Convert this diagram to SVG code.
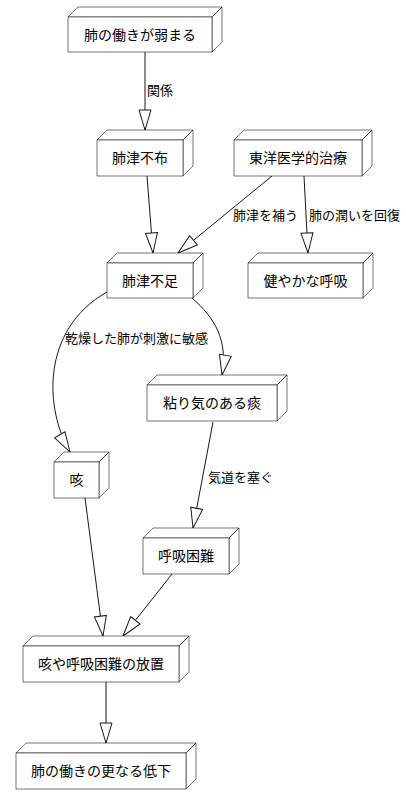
<svg xmlns="http://www.w3.org/2000/svg" width="406" height="805" viewBox="0 0 406 805">
<style>
.box{fill:#ffffff;stroke:#181818;stroke-width:0.6}
.nt{font-family:"Liberation Sans","Noto Sans CJK JP",sans-serif;font-size:14px;fill:#000;text-anchor:middle}
.el{font-family:"Liberation Sans","Noto Sans CJK JP",sans-serif;font-size:13px;fill:#000}
.edge{fill:none;stroke:#181818;stroke-width:1}
</style>
<defs>
<marker id="arr" markerUnits="userSpaceOnUse" viewBox="-21 -7 22 14" refX="0" refY="0" markerWidth="22" markerHeight="14" orient="auto">
<path d="M0,0 L-20,-6 L-20,6 Z" fill="#ffffff" stroke="#181818" stroke-width="1"/>
</marker>
</defs>
<rect width="406" height="805" fill="#ffffff"/>

<g id="edges">
<path class="edge" d="M145,52 L145,130" marker-end="url(#arr)"/>
<text class="el" x="147" y="95">関係</text>
<path class="edge" d="M147,176 L153,253" marker-end="url(#arr)"/>
<path class="edge" d="M272,176 L178,253" marker-end="url(#arr)"/>
<text class="el" x="233" y="220">肺津を補う</text>
<path class="edge" d="M304,176 L308,253" marker-end="url(#arr)"/>
<text class="el" x="309" y="220">肺の潤いを回復</text>
<path class="edge" d="M107,292 C40,330 45,410 70,452" marker-end="url(#arr)"/>
<text class="el" x="65" y="343">乾燥した肺が刺激に敏感</text>
<path class="edge" d="M192,298 C215,318 228,340 222,375" marker-end="url(#arr)"/>
<path class="edge" d="M213,422 L193,528" marker-end="url(#arr)"/>
<text class="el" x="208" y="482">気道を塞ぐ</text>
<path class="edge" d="M85,498 L103,636" marker-end="url(#arr)"/>
<path class="edge" d="M172,574 L123,636" marker-end="url(#arr)"/>
<path class="edge" d="M106,682 L106,743" marker-end="url(#arr)"/>
</g>

<g id="n1">
<path class="box" d="M68,17 L78,7 L222,7 L212,17 Z M212,17 L222,7 L222,42 L212,52 Z"/>
<rect class="box" x="68" y="17" width="144" height="35"/>
<text class="nt" x="140" y="39.5">肺の働きが弱まる</text>
</g>
<g id="n2">
<path class="box" d="M97,140 L107,130 L193,130 L183,140 Z M183,140 L193,130 L193,166 L183,176 Z"/>
<rect class="box" x="97" y="140" width="86" height="36"/>
<text class="nt" x="140" y="163">肺津不布</text>
</g>
<g id="n3">
<path class="box" d="M234,140 L244,130 L372,130 L362,140 Z M362,140 L372,130 L372,166 L362,176 Z"/>
<rect class="box" x="234" y="140" width="128" height="36"/>
<text class="nt" x="298" y="163">東洋医学的治療</text>
</g>
<g id="n4">
<path class="box" d="M107,263 L117,253 L203,253 L193,263 Z M193,263 L203,253 L203,288 L193,298 Z"/>
<rect class="box" x="107" y="263" width="86" height="35"/>
<text class="nt" x="150" y="285.5">肺津不足</text>
</g>
<g id="n5">
<path class="box" d="M248,263 L258,253 L373,253 L363,263 Z M363,263 L373,253 L373,288 L363,298 Z"/>
<rect class="box" x="248" y="263" width="115" height="35"/>
<text class="nt" x="305.5" y="285.5">健やかな呼吸</text>
</g>
<g id="n6">
<path class="box" d="M147,385 L157,375 L287,375 L277,385 Z M277,385 L287,375 L287,411 L277,421 Z"/>
<rect class="box" x="147" y="385" width="130" height="36"/>
<text class="nt" x="212" y="408">粘り気のある痰</text>
</g>
<g id="n7">
<path class="box" d="M54,462 L64,452 L109,452 L99,462 Z M99,462 L109,452 L109,488 L99,498 Z"/>
<rect class="box" x="54" y="462" width="45" height="36"/>
<text class="nt" x="76.5" y="485">咳</text>
</g>
<g id="n8">
<path class="box" d="M143,538 L153,528 L239,528 L229,538 Z M229,538 L239,528 L239,564 L229,574 Z"/>
<rect class="box" x="143" y="538" width="86" height="36"/>
<text class="nt" x="186" y="561">呼吸困難</text>
</g>
<g id="n9">
<path class="box" d="M23,646 L33,636 L189,636 L179,646 Z M179,646 L189,636 L189,672 L179,682 Z"/>
<rect class="box" x="23" y="646" width="156" height="36"/>
<text class="nt" x="101" y="669">咳や呼吸困難の放置</text>
</g>
<g id="n10">
<path class="box" d="M16,753 L26,743 L196,743 L186,753 Z M186,753 L196,743 L196,779 L186,789 Z"/>
<rect class="box" x="16" y="753" width="170" height="36"/>
<text class="nt" x="101" y="776">肺の働きの更なる低下</text>
</g>
</svg>
